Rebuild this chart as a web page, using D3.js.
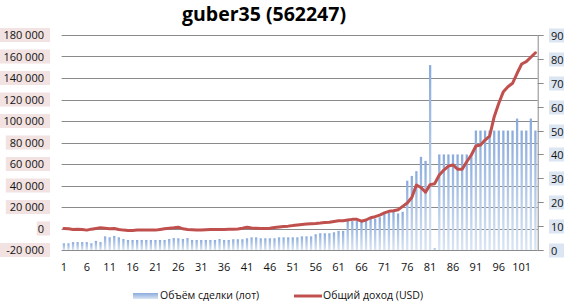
<!DOCTYPE html>
<html>
<head>
<meta charset="utf-8">
<script src="https://cdn.jsdelivr.net/npm/d3@7"></script>
<style>
  html, body { margin: 0; padding: 0; background: #fff; }
  svg { display: block; font-family: "Open Sans", sans-serif; }
</style>
</head>
<body>
<div id="container"></div>
<script>
const w = 564;
const h = 302;

const title = "guber35 (562247)";
const seriesNames = ["Объём сделки (лот)", "Общий доход (USD)"];

const categories = d3.range(1, 105);
const xTickLabels = [1, 6, 11, 16, 21, 26, 31, 36, 41, 46, 51, 56, 61, 66, 71, 76, 81, 86, 91, 96, 101];
const leftTicks = [-20000, 0, 20000, 40000, 60000, 80000, 100000, 120000, 140000, 160000, 180000];
const rightTicks = [0, 10, 20, 30, 40, 50, 60, 70, 80, 90];

// volume, lots (right axis)
const volume = [
  2.8, 2.8, 3.3, 3.3, 3.3, 3.3, 2.8, 3.8, 3.3, 5.7,
  5.3, 5.9, 5.3, 4.6, 4.2, 4.2, 4.2, 4.2, 4.2, 4.2,
  4.2, 4.2, 4.2, 4.6, 5.0, 4.9, 4.6, 5.0, 4.2, 4.2,
  4.2, 4.2, 4.2, 4.2, 4.6, 4.2, 4.2, 4.5, 4.5, 4.5,
  4.9, 5.3, 5.3, 4.9, 4.9, 4.9, 4.9, 5.3, 5.3, 5.3,
  5.3, 5.3, 5.7, 5.7, 5.7, 6.6, 7.0, 7.0, 7.0, 7.4,
  8.0, 8.0, 12.1, 12.1, 12.1, 11.7, 12.6, 13.1, 13.1, 13.7,
  15.1, 15.6, 16.0, 15.3, 16.0, 29, 31, 33, 39, 37.3,
  77.4, 0.7, 40, 40, 40, 40, 40, 40, 40, 40,
  50, 50, 50, 50, 50, 50, 50, 50, 50, 55,
  50, 50, 55, 50
];

// total income, USD (left axis)
const income = [
  0, -300, -900, -600, -900, -1500, -600, 0, 600, 300,
  -300, 0, -900, -1500, -1800, -1800, -1500, -1500, -1500, -1500,
  -1500, -900, -300, 300, 600, 1200, -300, -900, -1200, -1500,
  -1500, -1200, -900, -900, -900, -900, -800, -800, -400, 300,
  1100, 500, 200, -100, 100, 300, 1000, 1500, 1900, 2200,
  2700, 3300, 3700, 4100, 4400, 4700, 5100, 5600, 5800, 6500,
  7200, 7300, 7900, 8500, 8500, 6800, 7900, 10000, 11000, 12500,
  14500, 16000, 16500, 17500, 20600, 23700, 28800, 40500, 38100, 33700,
  40800, 41700, 49800, 54400, 58100, 59100, 55100, 55100, 62100, 68400,
  76700, 77700, 82300, 86000, 104000, 116500, 127300, 131900, 135100, 144400,
  153000, 155200, 159300, 163500
];

const plot = { left: 61.6, right: 537.7, top: 35, bottom: 250 };

const svg = d3.select("#container")
              .append("svg")
              .attr("width", w)
              .attr("height", h);

const defs = svg.append("defs");
const grad = defs.append("linearGradient")
                 .attr("id", "barGrad")
                 .attr("x1", 0).attr("y1", 0)
                 .attr("x2", 0).attr("y2", 1);
grad.append("stop").attr("offset", "0%").attr("stop-color", "#8aabdd");
grad.append("stop").attr("offset", "100%").attr("stop-color", "#dae5f3");

const x = d3.scaleBand()
            .domain(categories)
            .range([plot.left, plot.right])
            .paddingInner(0.5)
            .paddingOuter(0.25);

const yLeft = d3.scaleLinear()
                .domain([-20000, 180000])
                .range([plot.bottom, plot.top]);

const yRight = d3.scaleLinear()
                 .domain([0, 90])
                 .range([plot.bottom, plot.top]);

const fmt = v => d3.format(",")(v).replace(/,/g, " ").replace("−", "-");

// gridlines
svg.append("g")
   .selectAll("line")
   .data(leftTicks)
   .enter()
   .append("line")
   .attr("x1", plot.left)
   .attr("x2", plot.right)
   .attr("y1", d => Math.round(yLeft(d)) + 0.5)
   .attr("y2", d => Math.round(yLeft(d)) + 0.5)
   .attr("stroke", "#8a8a8a")
   .attr("stroke-width", 1);

// left axis labels
const leftLabels = svg.append("g")
                      .selectAll("g")
                      .data(leftTicks)
                      .enter()
                      .append("g")
                      .attr("transform", d => `translate(0,${yLeft(d)})`);

leftLabels.append("rect")
          .attr("x", d => 44 - fmt(d).length * 6.2 - 1)
          .attr("y", -7)
          .attr("width", d => fmt(d).length * 6.2 + 7)
          .attr("height", 14)
          .attr("fill", "#f2e2e1");

leftLabels.append("text")
          .attr("x", 44)
          .attr("y", 4)
          .attr("text-anchor", "end")
          .style("font-size", "11px")
          .attr("fill", "#111")
          .text(d => fmt(d));

// right axis
svg.append("line")
   .attr("x1", plot.right + 0.5)
   .attr("x2", plot.right + 0.5)
   .attr("y1", plot.top)
   .attr("y2", plot.bottom)
   .attr("stroke", "#8a8a8a");

const rightLabels = svg.append("g")
                       .selectAll("g")
                       .data(rightTicks)
                       .enter()
                       .append("g")
                       .attr("transform", d => `translate(0,${Math.round(yRight(d)) + 0.5})`);

rightLabels.append("line")
           .attr("x1", plot.right)
           .attr("x2", plot.right + 6)
           .attr("stroke", "#8a8a8a");

rightLabels.append("rect")
           .attr("x", 549)
           .attr("y", -7)
           .attr("width", 16)
           .attr("height", 14)
           .attr("fill", "#dce6f2");

rightLabels.append("text")
           .attr("x", 551)
           .attr("y", 4)
           .style("font-size", "11px")
           .attr("fill", "#111")
           .text(d => d);

// bars
svg.append("g")
   .selectAll("rect")
   .data(volume)
   .enter()
   .append("rect")
   .attr("x", (d, i) => x(categories[i]))
   .attr("y", d => yRight(d))
   .attr("width", x.bandwidth())
   .attr("height", d => yRight(0) - yRight(d))
   .attr("fill", "url(#barGrad)");

// income line
const line = d3.line()
               .x((d, i) => x(categories[i]) + x.bandwidth() / 2)
               .y(d => yLeft(d));

svg.append("path")
   .datum(income)
   .attr("d", line)
   .attr("fill", "none")
   .attr("stroke", "#c0504d")
   .attr("stroke-width", 3)
   .attr("stroke-linejoin", "round")
   .attr("stroke-linecap", "round");

// x labels
svg.append("g")
   .selectAll("text")
   .data(xTickLabels)
   .enter()
   .append("text")
   .attr("x", d => x(d) + x.bandwidth() / 2)
   .attr("y", 271)
   .attr("text-anchor", "middle")
   .style("font-size", "11px")
   .attr("fill", "#111")
   .text(d => d);

// title
svg.append("text")
   .attr("x", 264)
   .attr("y", 21)
   .attr("text-anchor", "middle")
   .style("font-size", "19.5px")
   .style("font-weight", "bold")
   .attr("fill", "#000")
   .text(title);

// legend
const legend = svg.append("g");

legend.append("rect")
      .attr("x", 133)
      .attr("y", 293)
      .attr("width", 25)
      .attr("height", 6)
      .attr("fill", "url(#barGrad)");

legend.append("text")
      .attr("x", 160)
      .attr("y", 298.5)
      .style("font-size", "10.5px")
      .attr("fill", "#111")
      .text(seriesNames[0]);

legend.append("line")
      .attr("x1", 294)
      .attr("x2", 322)
      .attr("y1", 296)
      .attr("y2", 296)
      .attr("stroke", "#c0504d")
      .attr("stroke-width", 3);

legend.append("text")
      .attr("x", 323)
      .attr("y", 298.5)
      .style("font-size", "10.5px")
      .attr("fill", "#111")
      .text(seriesNames[1]);
</script>
</body>
</html>
